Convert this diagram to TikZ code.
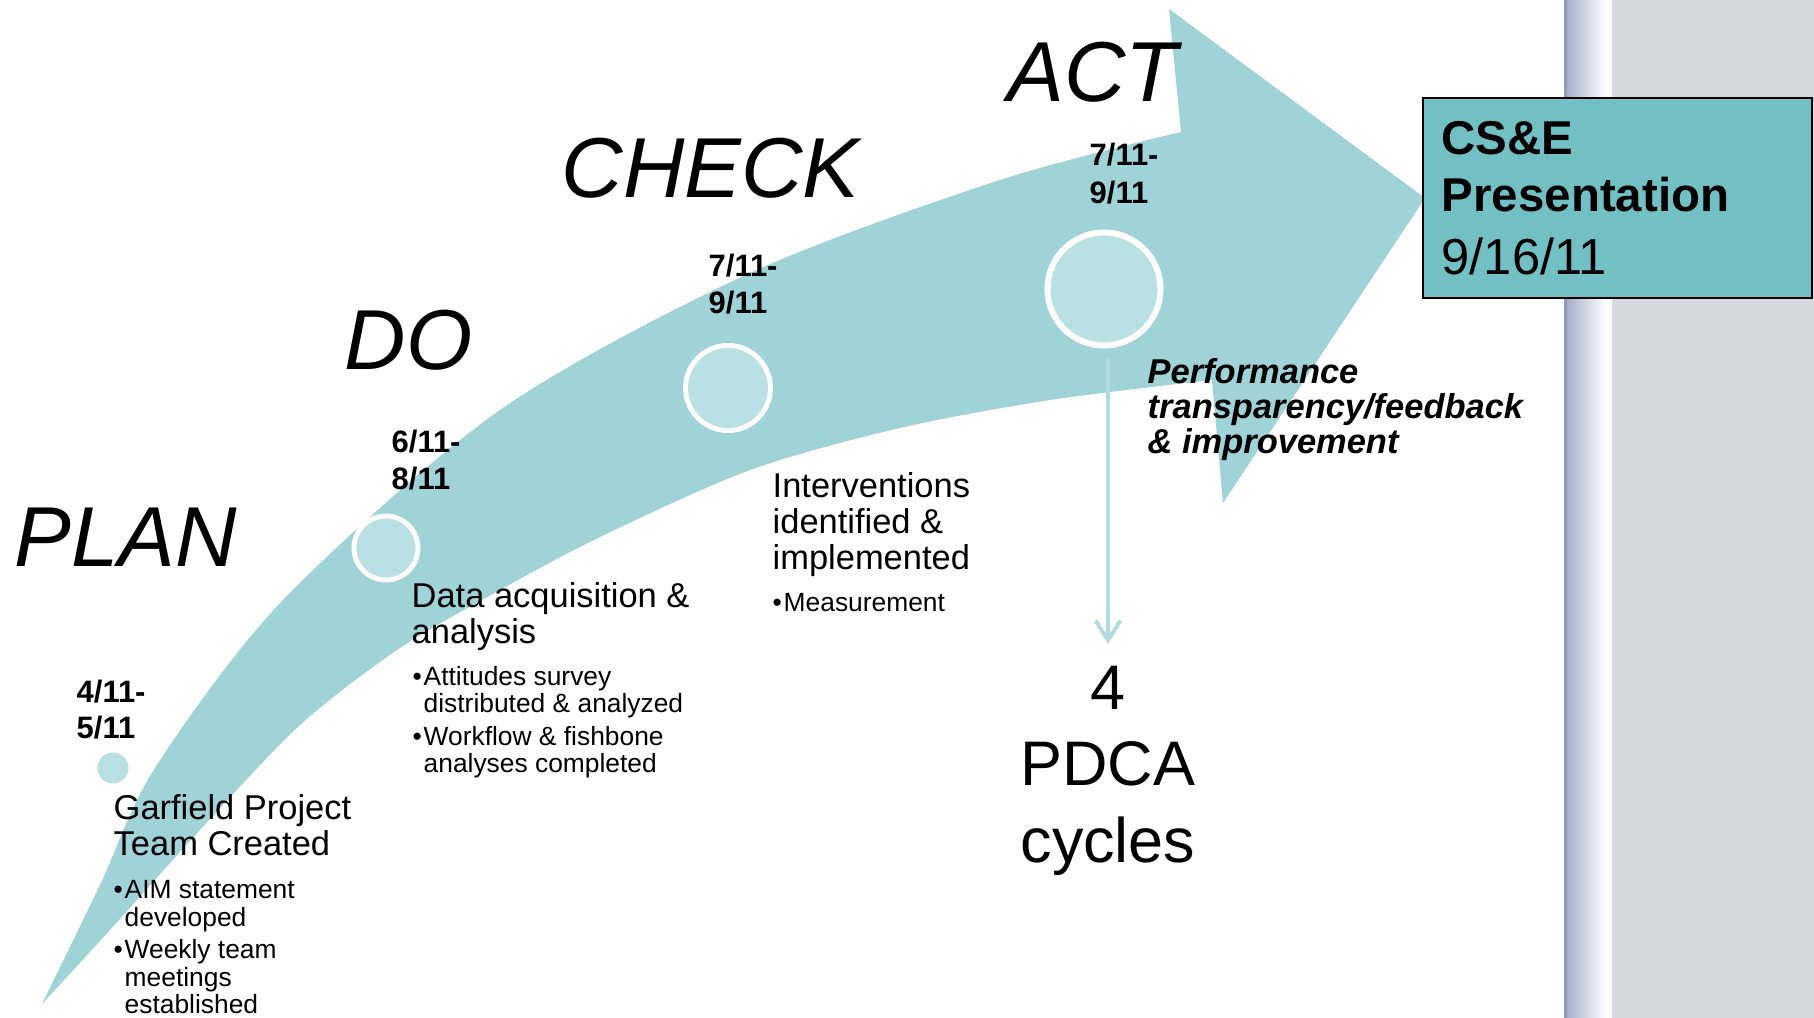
\documentclass[tikz,border=0pt]{standalone}
\usepackage{fontspec}
\setmainfont{Liberation Sans}
\usetikzlibrary{arrows.meta}
\definecolor{bandteal}{HTML}{A0D3D7}
\definecolor{dotteal}{HTML}{B9E0E3}
\definecolor{boxteal}{HTML}{72BFC4}
\definecolor{linkteal}{HTML}{B3DCE0}
\definecolor{panelgray}{HTML}{D5D8DD}
\definecolor{stripeblue}{HTML}{A3AECB}
\definecolor{stripeedge}{HTML}{8E9BBB}
\begin{document}
\begin{tikzpicture}[x=0.01cm,y=-0.01cm,
  line/.style={anchor=base west, inner sep=0pt},
  phase/.style={line, font=\fontsize{24.2pt}{29pt}\selectfont\itshape},
  datetxt/.style={line, font=\fontsize{8.8pt}{10pt}\selectfont\bfseries},
  bodytxt/.style={line, font=\fontsize{9.8pt}{11pt}\selectfont},
  bullettxt/.style={line, font=\fontsize{7.5pt}{9pt}\selectfont},
  perftxt/.style={line, font=\fontsize{9.8pt}{11pt}\selectfont\bfseries\itshape},
  pdcatxt/.style={anchor=base, inner sep=0pt, font=\fontsize{17.9pt}{21pt}\selectfont},
  boxbold/.style={line, font=\fontsize{13.5pt}{16pt}\selectfont\bfseries},
  boxdate/.style={line, font=\fontsize{14.4pt}{17pt}\selectfont},
  stage/.style={circle, fill=dotteal, draw=white, line width=1.4pt, inner sep=0pt},
  link/.style={draw=linkteal, line width=1.15pt, -{Straight Barb[length=5.5pt,width=7pt]}}]

% canvas and right-hand panel
\fill[white] (0,0) rectangle (1814,1018);
\useasboundingbox (0,0) rectangle (1814,1018);
\fill[panelgray] (1612,0) rectangle (1814,1018);
\shade[left color=stripeblue, right color=white] (1566,0) rectangle (1606,1018);
\fill[stripeedge] (1564,0) rectangle (1567,1018);

% curved timeline arrow
\fill[bandteal]
  plot[smooth] coordinates {(42,1004) (100,885) (155,768) (283,600) (500,410) (750,273) (1000,180) (1181,132)}
  -- (1169,9) -- (1425,198) -- (1223,503) -- (1212,380)
  -- plot[smooth] coordinates {(1212,380) (1050,400) (900,428) (750,470) (600,537) (500,590) (400,648) (300,725) (200,830) (110,930) (42,1004)}
  -- cycle;

% milestones
\node[stage, draw=none, minimum size=0.31cm] (planc) at (113,768) {};
\node[stage, minimum size=0.64cm] (doc) at (386,548) {};
\node[stage, minimum size=0.85cm] (checkc) at (728,388) {};
\node[stage, minimum size=1.13cm, line width=1.7pt] (actc) at (1104,289) {};

% phase names
\node[phase] (plan) at (14,566) {PLAN};
\node[phase] (do) at (344,369) {DO};
\node[phase] (check) at (561,197) {CHECK};
\node[phase] (act) at (1007,101) {ACT};

% dates
\node[datetxt] (pland1) at (76,702) {4/11-};
\node[datetxt] (pland2) at (76,738) {5/11};
\node[datetxt] (dod1) at (391,452) {6/11-};
\node[datetxt] (dod2) at (391,489) {8/11};
\node[datetxt] (checkd1) at (708,276) {7/11-};
\node[datetxt] (checkd2) at (708,313) {9/11};
\node[datetxt] (actd1) at (1089,165) {7/11-};
\node[datetxt] (actd2) at (1089,203) {9/11};

% PLAN details
\node[bodytxt] (plant1) at (113,819) {Garfield Project};
\node[bodytxt] (plant2) at (113,855) {Team Created};
\node[bullettxt] (planb1) at (113,898) {•};
\node[bullettxt] (planb1a) at (124,898) {AIM statement};
\node[bullettxt] (planb1b) at (124,926) {developed};
\node[bullettxt] (planb2) at (113,958) {•};
\node[bullettxt] (planb2a) at (124,958) {Weekly team};
\node[bullettxt] (planb2b) at (124,986) {meetings};
\node[bullettxt] (planb2c) at (124,1013) {established};

% DO details
\node[bodytxt] (dot1) at (411,607) {Data acquisition \&};
\node[bodytxt] (dot2) at (411,643) {analysis};
\node[bullettxt] (dob1) at (412,685) {•};
\node[bullettxt] (dob1a) at (423,685) {Attitudes survey};
\node[bullettxt] (dob1b) at (423,712) {distributed \& analyzed};
\node[bullettxt] (dob2) at (412,745) {•};
\node[bullettxt] (dob2a) at (423,745) {Workflow \& fishbone};
\node[bullettxt] (dob2b) at (423,772) {analyses completed};

% CHECK details
\node[bodytxt] (checkt1) at (772,497) {Interventions};
\node[bodytxt] (checkt2) at (772,533) {identified \&};
\node[bodytxt] (checkt3) at (772,569) {implemented};
\node[bullettxt] (checkb1) at (772,611) {•};
\node[bullettxt] (checkb1a) at (783,611) {Measurement};

% ACT details
\node[perftxt] (actt1) at (1147,383) {Performance};
\node[perftxt] (actt2) at (1147,418) {transparency/feedback};
\node[perftxt] (actt3) at (1147,453) {\& improvement};

% cycle count
\node[pdcatxt] (four) at (1108,709) {4};
\node[pdcatxt] (pdcaword) at (1108,785) {PDCA};
\node[pdcatxt] (cycles) at (1108,862) {cycles};
\draw[link] ([yshift=-3pt]actc.south -| four.north) -- ([yshift=6pt]four.north);

% presentation box
\node[draw=black, line width=0.6pt, fill=boxteal, minimum width=3.89cm, minimum height=2cm, anchor=north west, inner sep=0pt] (csebox) at (1422,97) {};
\node[boxbold] (cse1) at (1441,154) {CS\&E};
\node[boxbold] (cse2) at (1441,212) {Presentation};
\node[boxdate] (cse3) at (1441,274) {9/16/11};
\end{tikzpicture}
\end{document}
